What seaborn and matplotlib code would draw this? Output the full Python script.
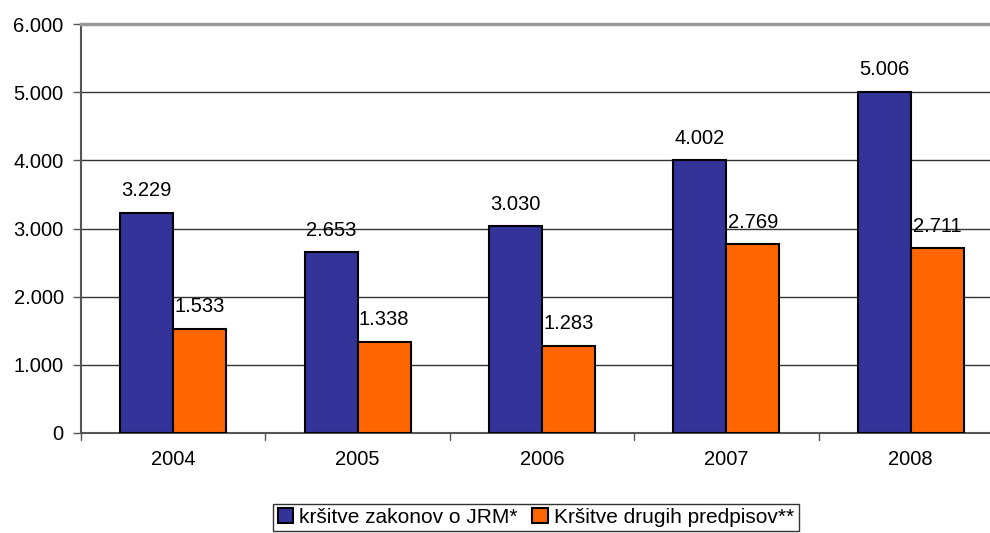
import pandas as pd
import matplotlib
matplotlib.use("Agg")
import matplotlib.pyplot as plt
import seaborn as sns

# podatki
years = ["2004", "2005", "2006", "2007", "2008"]
jrm = [3229, 2653, 3030, 4002, 5006]
drugi = [1533, 1338, 1283, 2769, 2711]
series_names = ["kršitve zakonov o JRM*", "Kršitve drugih predpisov**"]
yticks = [0, 1000, 2000, 3000, 4000, 5000, 6000]

df = pd.DataFrame({
    "leto": years * 2,
    "vrednost": jrm + drugi,
    "serija": [series_names[0]] * len(years) + [series_names[1]] * len(years),
})

sns.set_style("white")
plt.rcParams['font.family'] = ['Liberation Sans', 'DejaVu Sans']
plt.rcParams['text.color'] = 'black'
plt.rcParams['xtick.color'] = 'black'
plt.rcParams['ytick.color'] = 'black'

def fmt(v):
    return f"{v:,}".replace(",", ".")

FS = 14.5

fig = plt.figure(figsize=(9.9, 5.33), dpi=100)
ax = fig.add_axes([81 / 990, 1 - 433 / 533, 922 / 990, 409 / 533])

sns.barplot(data=df, x="leto", y="vrednost", hue="serija",
            palette=["#333399", "#FF6600"], saturation=1, width=0.575,
            edgecolor="black", linewidth=1.5, ax=ax, zorder=3)

ax.set_ylim(0, 6000)
ax.set_xlim(-0.5, len(years) - 0.5)
ax.set_yticks(yticks)
ax.set_yticklabels([fmt(t) for t in yticks], fontsize=FS)
ax.tick_params(axis="x", labelsize=FS, length=0, pad=12)
ax.tick_params(axis="y", length=5.5, width=1, color="#555555", pad=7, left=True)
ax.set_xlabel("")
ax.set_ylabel("")

# mrežne črte
for t in yticks[1:-1]:
    ax.axhline(t, color="#333333", linewidth=1, zorder=1)

# oznake kategorij na osi x
for b in range(len(years) + 1):
    ax.plot([b - 0.5, b - 0.5], [0, -100], color="#555555", linewidth=1,
            clip_on=False, zorder=1)

for s in ["left", "bottom"]:
    ax.spines[s].set_color("#555555")
    ax.spines[s].set_linewidth(1.5)
ax.spines["top"].set_color("#999999")
ax.spines["top"].set_linewidth(2.5)
ax.spines["right"].set_visible(False)

for c in ax.containers:
    ax.bar_label(c, labels=[fmt(int(v)) for v in c.datavalues],
                 padding=9, fontsize=FS)

leg = ax.legend(loc="upper center", bbox_to_anchor=((536 - 81) / 922, -0.173),
                ncol=2, fontsize=15, frameon=True, fancybox=False,
                edgecolor="black", handlelength=0.75, handleheight=0.75,
                handletextpad=0.3, columnspacing=0.7, borderpad=0.2,
                borderaxespad=0)
leg.get_frame().set_linewidth(1)

fig.savefig("out.png", dpi=100)
